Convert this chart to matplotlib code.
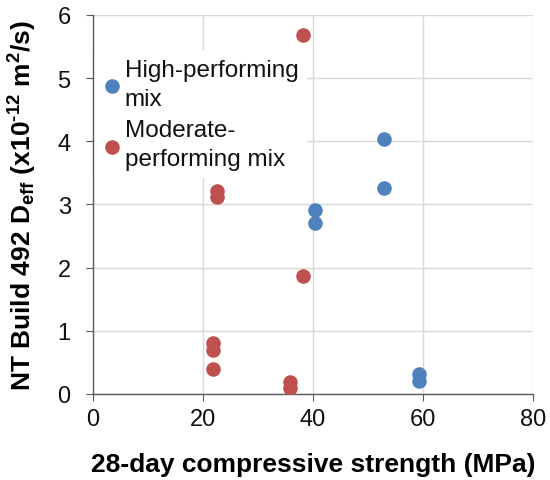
import matplotlib
matplotlib.use("Agg")
import matplotlib.pyplot as plt

plt.rcParams['font.family'] = ['Liberation Sans', 'DejaVu Sans']
plt.rcParams['mathtext.fontset'] = 'custom'
plt.rcParams['mathtext.rm'] = 'Liberation Sans'
plt.rcParams['mathtext.bf'] = 'Liberation Sans:bold'
plt.rcParams['mathtext.it'] = 'Liberation Sans:italic'

high_x = [53.0, 53.0, 40.4, 40.4, 59.3, 59.3]
high_y = [4.04, 3.26, 2.91, 2.71, 0.31, 0.21]
mod_x = [38.2, 22.6, 22.6, 38.2, 21.9, 21.9, 21.9, 35.8, 35.8]
mod_y = [5.68, 3.21, 3.11, 1.86, 0.80, 0.70, 0.40, 0.19, 0.09]

fig = plt.figure(figsize=(5.5, 4.81), dpi=100)
ax = fig.add_axes([0.169, 0.179, 0.8, 0.788])

ax.scatter(high_x, high_y, s=110, color='#4F81BD', label='High-performing\nmix', zorder=3, linewidths=0)
ax.scatter(mod_x, mod_y, s=110, color='#C0504D', label='Moderate-\nperforming mix', zorder=3, linewidths=0)

ax.set_xlim(0, 80)
ax.set_ylim(0, 6)
ax.set_xticks([0, 20, 40, 60, 80])
ax.set_yticks([0, 1, 2, 3, 4, 5, 6])
ax.grid(True, color='#D9D9D9', linewidth=1.0, zorder=0)
ax.set_axisbelow(True)
for s in ['top', 'right']:
    ax.spines[s].set_visible(False)
for s in ['left', 'bottom']:
    ax.spines[s].set_color('#595959')
    ax.spines[s].set_linewidth(1.0)
ax.tick_params(axis='x', direction='out', length=5, color='#595959', labelsize=17, labelcolor='#111111', pad=5)
ax.tick_params(axis='y', direction='out', length=5, color='#595959', labelsize=17, labelcolor='#111111', pad=11)

ax.set_xlabel('28-day compressive strength (MPa)', fontsize=19, fontweight='bold', labelpad=16)
ax.set_ylabel('NT Build 492 D$_{\\mathbf{eff}}$ (x10$^{\\mathbf{\u2010}\\mathbf{12}}$ m$^{\\mathbf{2}}$/s)',
              fontsize=19, fontweight='bold')
ax.yaxis.set_label_coords(-0.122, 0.5)

leg = ax.legend(loc='upper left', bbox_to_anchor=(0.0, 0.91), frameon=True, fontsize=17.5,
                handletextpad=0.12, borderpad=0.3, labelspacing=0.4, scatterpoints=1, markerscale=1.0,
                handlelength=0.78, borderaxespad=0.1)
leg.get_frame().set_facecolor('white')
leg.get_frame().set_edgecolor('white')
leg.get_frame().set_alpha(1.0)
leg.get_frame().set_boxstyle('square', pad=0)
leg.set_zorder(2.5)
for t in leg.get_texts():
    t.set_color('#111111')
    t.set_linespacing(1.4)

fig.savefig('out.png', dpi=100)
